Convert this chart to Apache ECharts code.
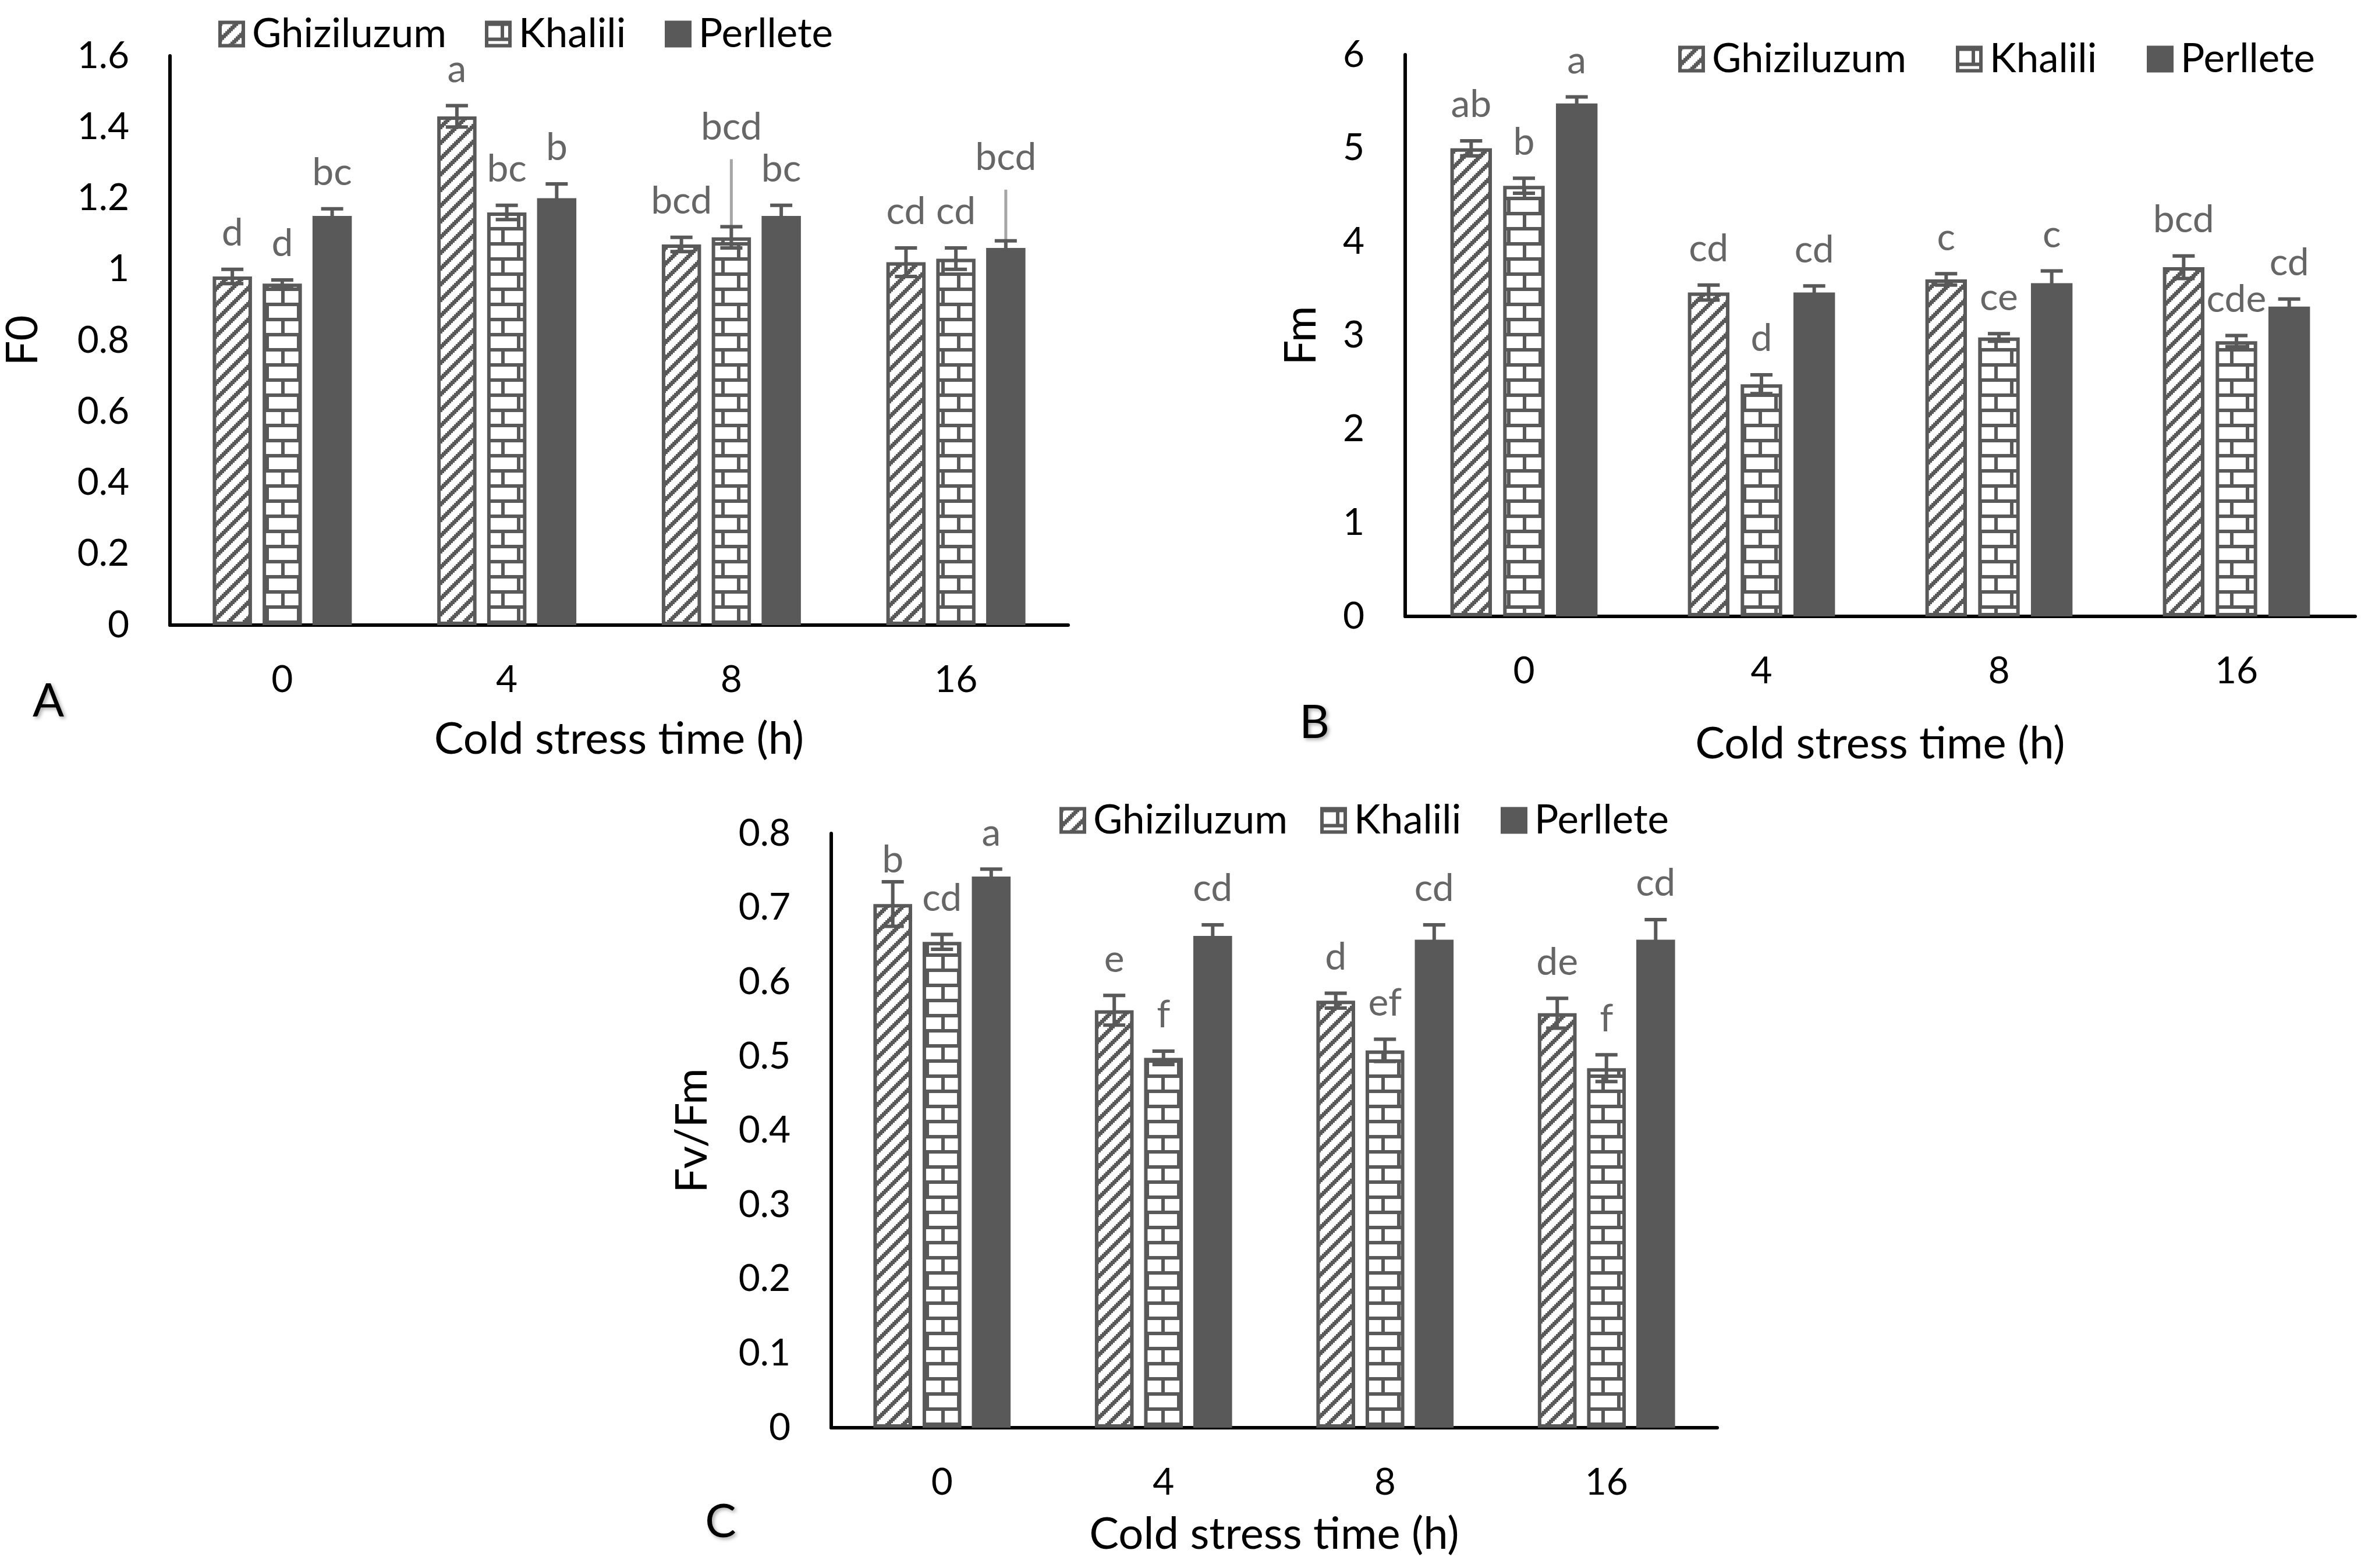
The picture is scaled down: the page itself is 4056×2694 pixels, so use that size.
<!DOCTYPE html>
<html>
<head>
<meta charset="utf-8">
<script src="https://cdn.jsdelivr.net/npm/echarts@6/dist/echarts.min.js"></script>
<style>
html, body { margin: 0; padding: 0; background: #fff; }
#main { width: 4056px; height: 2694px; }
</style>
</head>
<body>
<div id="main"></div>
<script>
var categories = ['0', '4', '8', '16'];
var cultivars = ['Ghiziluzum', 'Khalili', 'Perllete'];

// A: F0
var f0Ghiz = [0.98, 1.43, 1.07, 1.02];
var f0Khal = [0.96, 1.16, 1.09, 1.03];
var f0Perl = [1.15, 1.20, 1.15, 1.06];
var f0GhizErr = [0.02, 0.03, 0.02, 0.04];
var f0KhalErr = [0.01, 0.02, 0.03, 0.03];
var f0PerlErr = [0.02, 0.04, 0.03, 0.02];
var f0GhizLetters = ['d', 'a', 'bcd', 'cd'];
var f0KhalLetters = ['d', 'bc', 'bcd', 'cd'];
var f0PerlLetters = ['bc', 'b', 'bc', 'bcd'];
var f0Ticks = [0, 1.6, 0.2];

// B: Fm
var fmGhiz = [5.00, 3.46, 3.60, 3.73];
var fmKhal = [4.60, 2.48, 2.98, 2.94];
var fmPerl = [5.48, 3.46, 3.56, 3.31];
var fmGhizErr = [0.08, 0.08, 0.06, 0.12];
var fmKhalErr = [0.08, 0.10, 0.04, 0.06];
var fmPerlErr = [0.07, 0.07, 0.13, 0.08];
var fmGhizLetters = ['ab', 'cd', 'c', 'bcd'];
var fmKhalLetters = ['b', 'd', 'ce', 'cde'];
var fmPerlLetters = ['a', 'cd', 'c', 'cd'];
var fmTicks = [0, 6, 1];

// C: Fv/Fm
var fvGhiz = [0.705, 0.562, 0.575, 0.558];
var fvKhal = [0.654, 0.498, 0.508, 0.484];
var fvPerl = [0.742, 0.662, 0.657, 0.657];
var fvGhizErr = [0.03, 0.02, 0.01, 0.02];
var fvKhalErr = [0.01, 0.009, 0.015, 0.018];
var fvPerlErr = [0.01, 0.015, 0.02, 0.027];
var fvGhizLetters = ['b', 'e', 'd', 'de'];
var fvKhalLetters = ['cd', 'f', 'ef', 'f'];
var fvPerlLetters = ['a', 'cd', 'cd', 'cd'];
var fvTicks = [0, 0.8, 0.1];

var FONT = 'Lato, "Open Sans", sans-serif';
var GREY = '#595959';
var BAR_W = 0.175, BAR_GAP = 0.27;

// fill patterns like the Excel ones (hard pixel steps, no smoothing)
function stripeTile() {
    var s = 27, w = 10, c = document.createElement('canvas');
    c.width = s; c.height = s;
    var g = c.getContext('2d');
    g.fillStyle = '#fff'; g.fillRect(0, 0, s, s);
    g.fillStyle = GREY;
    for (var y = 0; y < s; y += 3) {
        var x0 = s - y - 3;
        g.fillRect(x0, y, w, 3);
        g.fillRect(x0 - s, y, w, 3);
        g.fillRect(x0 + s, y, w, 3);
    }
    return c;
}
function brickTile() {
    var w = 54, h = 52, c = document.createElement('canvas');
    c.width = w; c.height = h;
    var g = c.getContext('2d');
    g.fillStyle = '#fff'; g.fillRect(0, 0, w, h);
    g.fillStyle = GREY;
    g.fillRect(0, 0, w, 6);
    g.fillRect(0, 26, w, 6);
    g.fillRect(24, 0, 6, 26);
    g.fillRect(0, 26, 3, 26);
    g.fillRect(w - 3, 26, 3, 26);
    return c;
}
var fills = [
    { image: stripeTile(), repeat: 'repeat' },
    { image: brickTile(), repeat: 'repeat' },
    GREY
];

var panels = [
    { tag: 'A', yName: 'F0', ticks: f0Ticks,
      vals: [f0Ghiz, f0Khal, f0Perl], errs: [f0GhizErr, f0KhalErr, f0PerlErr],
      letters: [f0GhizLetters, f0KhalLetters, f0PerlLetters],
      grid: { left: 291, top: 96, width: 1544, height: 978 },
      yGap: 215, xGap: 158, legendLeft: [375, 833, 1142], legendY: 58,
      tagPos: [83, 1205], lift: { '1-2': 109, '2-3': 81 } },
    { tag: 'B', yName: 'Fm', ticks: fmTicks,
      vals: [fmGhiz, fmKhal, fmPerl], errs: [fmGhizErr, fmKhalErr, fmPerlErr],
      letters: [fmGhizLetters, fmKhalLetters, fmPerlLetters],
      grid: { left: 2414, top: 94, width: 1632, height: 965 },
      yGap: 141, xGap: 181, legendLeft: [2883, 3360, 3688], legendY: 101,
      tagPos: [2258, 1242], lift: {} },
    { tag: 'C', yName: 'Fv/Fm', ticks: fvTicks,
      vals: [fvGhiz, fvKhal, fvPerl], errs: [fvGhizErr, fvKhalErr, fvPerlErr],
      letters: [fvGhizLetters, fvKhalLetters, fvPerlLetters],
      grid: { left: 1428, top: 1432, width: 1522, height: 1021 },
      yGap: 201, xGap: 145, legendLeft: [1820, 2268, 2578], legendY: 1409,
      tagPos: [1238, 2615], lift: { '0-0': -25 } }
];

function errRender(p, k) {
    return function (params, api) {
        var i = api.value(0), v = api.value(1), e = api.value(2);
        var band = api.size([1, 0])[0];
        var bw = band * BAR_W;
        var x = api.coord([i, v])[0] + (k - 1) * bw * (1 + BAR_GAP);
        var yBar = api.coord([i, v])[1];
        var yTop = api.coord([i, v + e])[1];
        var yBot = api.coord([i, v - e])[1];
        var lift = p.lift[k + '-' + i] || 0;
        var yLab = yTop - 62 - lift;
        var ls = { stroke: GREY, lineWidth: 6 };
        var kids = [];
        if (lift > 0) {
            kids.push({ type: 'line', shape: { x1: x, y1: yLab + 55, x2: x, y2: yBar },
                        style: { stroke: '#a6a6a6', lineWidth: 5 } });
        }
        kids.push(
            { type: 'line', shape: { x1: x, y1: yTop, x2: x, y2: yBot }, style: ls },
            { type: 'line', shape: { x1: x - 19, y1: yTop, x2: x + 19, y2: yTop }, style: ls },
            { type: 'line', shape: { x1: x - 19, y1: yBot, x2: x + 19, y2: yBot }, style: ls },
            { type: 'text', style: { text: p.letters[k][i], x: x, y: yLab, align: 'center',
                verticalAlign: 'middle', fill: '#666', fontSize: 66, fontFamily: FONT } }
        );
        return { type: 'group', children: kids };
    };
}

var grids = [], xAxes = [], yAxes = [], series = [], legends = [], graphics = [];
panels.forEach(function (p, n) {
    grids.push(p.grid);
    xAxes.push({
        gridIndex: n, type: 'category', data: categories,
        axisLine: { lineStyle: { color: '#000', width: 6 } },
        axisTick: { show: false },
        axisLabel: { fontSize: 64, color: '#000', fontFamily: FONT, margin: 62 },
        name: 'Cold stress time (h)', nameLocation: 'middle', nameGap: p.xGap,
        nameTextStyle: { fontSize: 76, color: '#000', fontFamily: FONT }
    });
    yAxes.push({
        gridIndex: n, type: 'value', min: p.ticks[0], max: p.ticks[1], interval: p.ticks[2],
        axisLine: { show: true, lineStyle: { color: '#000', width: 6 } },
        axisTick: { show: false },
        splitLine: { show: false },
        axisLabel: { fontSize: 64, color: '#000', fontFamily: FONT, margin: 70 },
        name: p.yName, nameLocation: 'middle', nameGap: p.yGap,
        nameTextStyle: { fontSize: 76, color: '#000', fontFamily: FONT }
    });
    cultivars.forEach(function (c, k) {
        series.push({
            name: c, type: 'bar', xAxisIndex: n, yAxisIndex: n,
            barWidth: (BAR_W * 100) + '%', barGap: (BAR_GAP * 100) + '%',
            itemStyle: { color: fills[k], borderColor: GREY, borderWidth: 6 },
            data: p.vals[k], z: 2
        });
    });
    cultivars.forEach(function (c, k) {
        series.push({
            type: 'custom', xAxisIndex: n, yAxisIndex: n, z: 5,
            renderItem: errRender(p, k),
            data: p.vals[k].map(function (v, i) { return [i, v, p.errs[k][i]]; })
        });
    });
    cultivars.forEach(function (c, k) {
        legends.push({
            data: [c], left: p.legendLeft[k], top: p.legendY - 34, padding: 0,
            icon: 'rect', itemWidth: 40, itemHeight: 40, selectedMode: false,
            itemStyle: { borderColor: GREY, borderWidth: 6 },
            textStyle: { fontSize: 69, color: '#000', fontFamily: FONT, padding: [0, 0, 0, 10] }
        });
    });
    graphics.push({
        type: 'text', x: p.tagPos[0], y: p.tagPos[1],
        style: { text: p.tag, fontSize: 80, fontFamily: FONT, fill: '#000', align: 'center',
            verticalAlign: 'middle', textShadowColor: 'rgba(0,0,0,0.35)', textShadowBlur: 6,
            textShadowOffsetX: 3, textShadowOffsetY: 3 }
    });
});

var myChart = echarts.init(document.getElementById('main'));
myChart.setOption({
    animation: false,
    backgroundColor: '#fff',
    grid: grids,
    xAxis: xAxes,
    yAxis: yAxes,
    legend: legends,
    graphic: graphics,
    series: series
});
</script>
</body>
</html>
